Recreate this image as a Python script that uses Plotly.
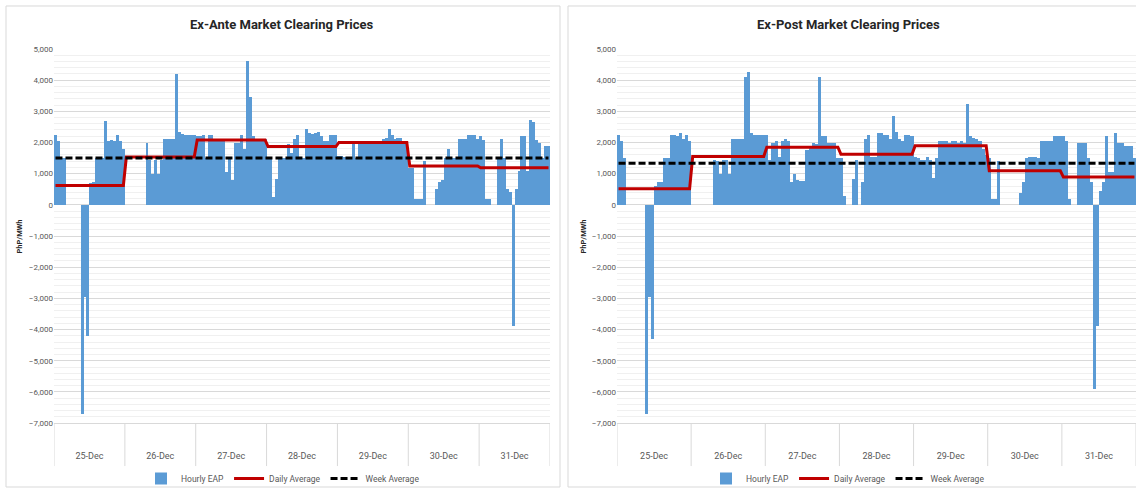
import plotly.graph_objects as go

# ---------------- data ----------------
days = ["25-Dec", "26-Dec", "27-Dec", "28-Dec", "29-Dec", "30-Dec", "31-Dec"]

ex_ante_hourly = [
    # 25-Dec
    2250, 2050, 1500, 1500, 0, 0, 0, 0, 0, -6700, -2950, -4200,
    700, 720, 1500, 1500, 1500, 2700, 2050, 2080, 2050, 2250, 2050, 1800,
    # 26-Dec
    0, 0, 0, 0, 0, 0, 0, 2000, 1450, 1000, 1450, 1000,
    1450, 2100, 2100, 2100, 2100, 4200, 2350, 2280, 2250, 2250, 2250, 2230,
    # 27-Dec
    2200, 2200, 2250, 1500, 2250, 2250, 2050, 2050, 2050, 2050, 1050, 1500,
    800, 2000, 2000, 2250, 1800, 4600, 3450, 2200, 2100, 2100, 2100, 2100,
    # 28-Dec
    1500, 1500, 270, 830, 1500, 1500, 1500, 1950, 1650, 2100, 2250, 1500,
    1500, 2420, 2300, 2280, 2300, 2330, 2200, 2050, 2050, 2250, 2250, 2250,
    # 29-Dec
    1580, 1580, 1550, 1550, 1550, 1950, 1500, 2050, 2050, 2050, 2050, 2050,
    2050, 2050, 2050, 2100, 2150, 2420, 2250, 2100, 2150, 2150, 2050, 2000,
    # 30-Dec
    1200, 1200, 200, 200, 200, 1400, 0, 0, 0, 500, 750, 800,
    1500, 1800, 1500, 1500, 1500, 2100, 2100, 2100, 2230, 2230, 2230, 2100,
    # 31-Dec
    2200, 2080, 200, 200, 0, 0, 1500, 2100, 1500, 500, 400, -3880,
    500, 1100, 2200, 2200, 1100, 2720, 2660, 2080, 2000, 1500, 1900, 1900,
]
ex_ante_daily = [620, 1530, 2080, 1870, 2000, 1245, 1190]
ex_ante_week = 1500

ex_post_hourly = [
    # 25-Dec
    2250, 2050, 1500, 0, 0, 0, 0, 0, 0, -6700, -2950, -4300,
    600, 720, 720, 1500, 1500, 2250, 2250, 2200, 2300, 2100, 2250, 2050,
    # 26-Dec
    0, 0, 0, 0, 0, 0, 0, 1450, 1400, 1000, 1450, 1450,
    1000, 2100, 2100, 2100, 2100, 4100, 4250, 2300, 2250, 2250, 2250, 2250,
    # 27-Dec
    2250, 1450, 2000, 2050, 1550, 2050, 2100, 2050, 750, 1000, 800, 780,
    780, 1750, 1850, 2000, 1950, 4100, 2200, 2200, 2000, 2000, 2000, 1500,
    # 28-Dec
    1500, 300, 0, 0, 830, 1450, 0, 750, 2100, 2250, 1550, 1550,
    2300, 2300, 2250, 2250, 2100, 2850, 2350, 2100, 2050, 2250, 2250, 2200,
    # 29-Dec
    1550, 1500, 1450, 1450, 1550, 1450, 850, 1500, 2050, 2050, 2050, 2000,
    2050, 2050, 2000, 2050, 2000, 3250, 2200, 2150, 2100, 2050, 1800, 1600,
    # 30-Dec
    1500, 200, 200, 1400, 0, 0, 0, 0, 0, 0, 380, 750,
    1500, 1550, 1550, 1550, 1500, 2050, 2050, 2050, 2050, 2200, 2200, 2200,
    # 31-Dec
    2200, 2050, 200, 0, 0, 2000, 2000, 2000, 1500, 750, -5900, -3880,
    450, 750, 2200, 1050, 1050, 2300, 2000, 2000, 1900, 1900, 1900, 1500,
]
ex_post_daily = [515, 1550, 1850, 1620, 1895, 1090, 890]
ex_post_week = 1330

panel_titles = ["Ex-Ante Market Clearing Prices", "Ex-Post Market Clearing Prices"]
series_names = ["Hourly EAP", "Daily Average", "Week Average"]
y_title = "PhP/MWh"

# ---------------- styling ----------------
W, H = 1136, 493
FONT = "Roboto, Liberation Sans, sans-serif"
BLUE = "#5B9BD5"
RED = "#C00000"
GRID = "#D9D9D9"
MINOR = "#F0F0F0"
TXT = "#595959"

hours = list(range(len(ex_ante_hourly)))
n_days = len(days)

def px_x(v):
    return v / W

def px_y(v):
    return (H - v) / H

panels = [
    dict(hourly=ex_ante_hourly, daily=ex_ante_daily, week=ex_ante_week,
         dom=[px_x(54), px_x(550)], box=(6, 560), cx=282, legend="legend"),
    dict(hourly=ex_post_hourly, daily=ex_post_daily, week=ex_post_week,
         dom=[px_x(617), 1.0], box=(568, 1200), cx=848, legend="legend2"),
]

fig = go.Figure()
shapes = []
annotations = []
ydom = [px_y(424), px_y(49)]

for i, p in enumerate(panels):
    xa = "x" if i == 0 else "x2"
    ya = "y" if i == 0 else "y2"
    daily_line = [p["daily"][h // 24] for h in hours]
    week_line = [p["week"] for _ in hours]
    fig.add_trace(go.Bar(x=hours, y=p["hourly"], name=series_names[0], width=1.0,
                         marker=dict(color=BLUE, line=dict(width=0)),
                         xaxis=xa, yaxis=ya, legend=p["legend"]))
    fig.add_trace(go.Scatter(x=hours, y=daily_line, mode="lines", name=series_names[1],
                             line=dict(color=RED, width=3),
                             xaxis=xa, yaxis=ya, legend=p["legend"]))
    fig.add_trace(go.Scatter(x=hours, y=week_line, mode="lines", name=series_names[2],
                             line=dict(color="#000000", width=3, dash="7px,3px"),
                             xaxis=xa, yaxis=ya, legend=p["legend"]))

    axis_x = dict(domain=p["dom"], range=[-0.5, len(hours) - 0.5], showgrid=False,
                  zeroline=False, showline=True, linecolor=GRID, linewidth=1,
                  tickmode="array", tickvals=[24 * d + 11.5 for d in range(n_days)],
                  ticktext=days, ticks="", ticklabelstandoff=24,
                  tickfont=dict(family=FONT, size=9, color=TXT), anchor=ya,
                  automargin=False, fixedrange=True)
    axis_y = dict(domain=ydom, range=[-7000, 5000], dtick=1000, tick0=0,
                  tickformat=",", showgrid=True, gridcolor=GRID, gridwidth=1,
                  minor=dict(dtick=200, showgrid=True, gridcolor=MINOR, gridwidth=1),
                  zeroline=False, showline=False, ticks="",
                  tickfont=dict(family=FONT, size=8, color=TXT), anchor=xa,
                  automargin=False, fixedrange=True)
    if i == 0:
        fig.update_layout(xaxis=axis_x, yaxis=axis_y)
    else:
        fig.update_layout(xaxis2=axis_x, yaxis2=axis_y)

    # day separators below the category axis
    for d in range(n_days + 1):
        shapes.append(dict(type="line", xref=xa, yref="paper",
                           x0=24 * d - 0.5, x1=24 * d - 0.5,
                           y0=px_y(424), y1=px_y(467),
                           line=dict(color=GRID, width=1)))
    # panel border
    shapes.append(dict(type="rect", xref="paper", yref="paper",
                       x0=px_x(p["box"][0]), x1=px_x(p["box"][1]),
                       y0=px_y(488), y1=px_y(6),
                       line=dict(color=GRID, width=1), fillcolor="rgba(0,0,0,0)",
                       layer="below"))
    # panel title
    annotations.append(dict(text="<b>" + panel_titles[i] + "</b>", xref="paper", yref="paper",
                            x=px_x(p["cx"]), y=px_y(25), showarrow=False,
                            xanchor="center", yanchor="middle",
                            font=dict(family=FONT, size=13, color="#262626")))
    # y axis title
    ytx = 20 if i == 0 else 584
    annotations.append(dict(text="<b>" + y_title + "</b>", xref="paper", yref="paper",
                            x=px_x(ytx), y=px_y(237), showarrow=False, textangle=-90,
                            xanchor="center", yanchor="middle",
                            font=dict(family=FONT, size=7.5, color="#262626")))

leg_common = dict(orientation="h", yanchor="middle", y=px_y(479), xanchor="center",
                  bgcolor="rgba(0,0,0,0)", font=dict(family=FONT, size=8.5, color=TXT),
                  itemwidth=30, tracegroupgap=0, itemclick=False, itemdoubleclick=False)

fig.update_layout(
    width=W, height=H, autosize=False,
    margin=dict(l=0, r=0, t=0, b=0, pad=0),
    paper_bgcolor="white", plot_bgcolor="white",
    bargap=0, barmode="overlay",
    showlegend=True,
    legend=dict(x=px_x(283), **leg_common),
    legend2=dict(x=px_x(848), **leg_common),
    shapes=shapes, annotations=annotations,
    font=dict(family=FONT, color=TXT),
)

fig.write_html("out.html", config={"displayModeBar": False},
               post_script="document.body.style.margin='0';")
